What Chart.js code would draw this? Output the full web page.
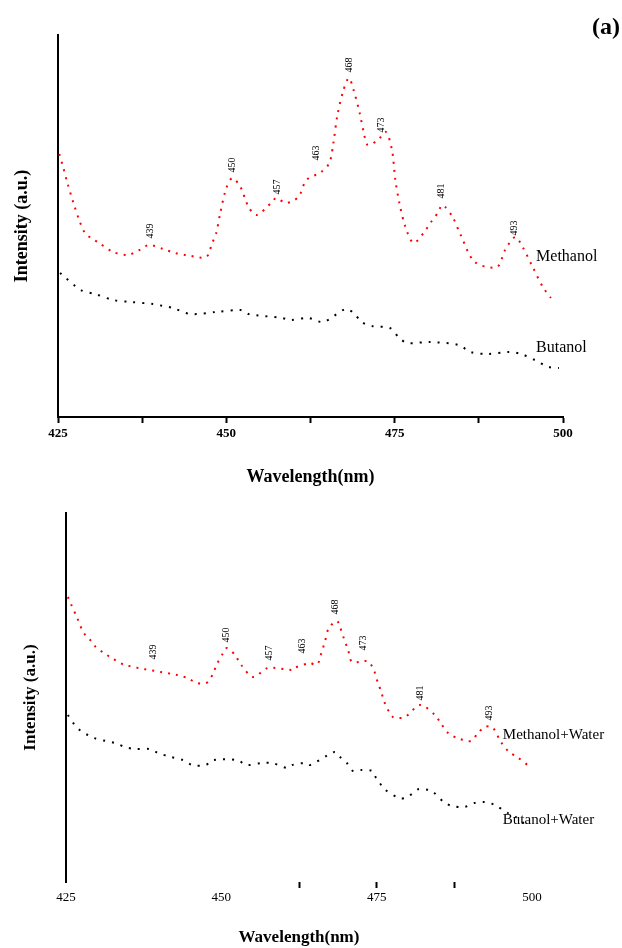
<!DOCTYPE html>
<html>
<head>
<meta charset="utf-8">
<script src="https://cdn.jsdelivr.net/npm/chart.js@4/dist/chart.umd.min.js"></script>
<style>
  html, body { margin: 0; padding: 0; background: #fff; }
  #wrap { position: relative; width: 622px; height: 948px; }
  #topBox { position: absolute; left: 0; top: 0; width: 622px; height: 490px; }
  #botBox { position: absolute; left: 0; top: 490px; width: 622px; height: 458px; }
</style>
</head>
<body>
<div id="wrap">
  <div id="topBox"><canvas id="topChart" width="622" height="490"></canvas></div>
  <div id="botBox"><canvas id="botChart" width="622" height="458"></canvas></div>
</div>
<script>
// panel (a) top: methanol / butanol
const methWl = [425.2, 425.8, 426.4, 427.3, 428.2, 429.0, 429.9, 431.1, 433.2, 435.3, 437.1, 438.5, 440.6, 442.4, 444.0, 447.0, 447.9, 448.5, 449.1, 450.0, 450.9, 452.1, 453.3, 454.5, 456.8, 457.4, 458.9, 460.7, 461.9, 464.1, 465.3, 465.9, 466.5, 467.4, 468.2, 468.9, 469.8, 470.4, 471.0, 472.5, 473.7, 474.6, 475.1, 475.7, 476.6, 477.8, 479.3, 480.4, 481.4, 482.1, 483.6, 484.8, 486.9, 490.2, 491.4, 492.9, 494.0, 495.5, 497.0, 498.2];
const methInt = [263, 249, 234, 214, 196, 184, 179, 174, 165, 162, 167, 172, 168, 164, 162, 160, 174, 184, 204, 229, 239, 230, 210, 202, 215, 219, 214, 220, 237, 245, 254, 274, 302, 327, 339, 327, 304, 285, 272, 277, 285, 267, 237, 214, 190, 174, 184, 195, 204, 212, 200, 182, 155, 150, 167, 180, 170, 150, 130, 119];

const butWl = [425.3, 428.4, 430.5, 433.2, 435.9, 439.1, 440.6, 442.1, 444.6, 448.5, 452.1, 453.3, 458.3, 459.5, 462.2, 464.4, 467.7, 468.9, 470.1, 471.6, 474.3, 475.7, 476.9, 480.2, 484.5, 486.3, 488.7, 492.0, 493.8, 495.8, 497.9, 499.4];
const butInt = [144, 127, 123, 117, 115, 113, 111, 109, 103, 105, 107, 103, 99, 97, 99, 95, 108, 104, 95, 91, 89, 79, 74, 75, 72, 65, 63, 65, 63, 57, 50, 49];

// lower panel: with water
const methWaterWl = [425.3, 425.8, 426.8, 427.6, 428.1, 428.9, 429.8, 431.1, 432.1, 434.5, 442.9, 444.5, 446.1, 447.5, 448.0, 448.7, 449.3, 450.3, 450.9, 452.2, 453.2, 455.1, 457.5, 461.4, 461.7, 464.3, 465.1, 465.6, 466.0, 466.7, 467.3, 468.6, 469.1, 469.7, 470.4, 471.0, 472.2, 473.1, 473.8, 474.6, 475.2, 475.7, 476.3, 477.6, 478.6, 479.6, 482.0, 484.4, 485.2, 486.5, 488.4, 490.2, 491.3, 492.4, 493.6, 495.0, 496.3, 497.6, 499.5];
const methWaterInt = [285, 278, 264, 252, 247, 242, 235, 229, 225, 217, 207, 204, 199, 199, 201, 209, 218, 229, 234, 227, 217, 205, 214, 212, 214, 219, 217, 219, 227, 241, 254, 261, 255, 244, 232, 220, 220, 221, 220, 211, 199, 191, 179, 165, 164, 165, 177, 167, 160, 149, 143, 141, 149, 155, 155, 140, 130, 125, 116];

const butWaterWl = [425.3, 426.4, 427.4, 428.5, 429.5, 431.4, 432.9, 434.5, 436.1, 438.4, 439.8, 441.9, 443.8, 445.3, 447.5, 448.7, 452.5, 454.1, 456.5, 458.2, 460.6, 461.4, 463.6, 464.3, 467.2, 468.3, 469.1, 470.2, 471.2, 472.6, 474.3, 474.9, 475.5, 476.2, 478.6, 479.6, 480.9, 481.8, 483.4, 484.1, 485.8, 487.1, 489.1, 490.7, 492.4, 494.0, 496.1, 497.4, 499.2];
const butWaterInt = [167, 157, 151, 147, 144, 141, 139, 135, 133, 133, 129, 125, 122, 117, 117, 122, 122, 117, 119, 119, 114, 117, 119, 117, 127, 130, 125, 119, 111, 112, 111, 104, 99, 93, 84, 84, 89, 93, 92, 90, 80, 76, 75, 79, 80, 77, 69, 65, 56];

// peak labels
const peakText = ['439', '450', '457', '463', '468', '473', '481', '493'];
const peakWlTop = [438.7, 450.9, 457.6, 463.3, 468.3, 473.1, 481.9, 492.8];
const peakAtTop = [186, 252, 230, 264, 352, 292, 226, 189];
const peakWlBot = [439.0, 450.8, 457.8, 463.0, 468.3, 472.8, 482.0, 493.1];
const peakAtBot = [230, 247, 229, 236, 275, 239, 189, 169];

// series names, anchored near the curve ends
const namesTop = ['Methanol', 'Butanol'];
const nameWlTop = [496.0, 496.0];
const nameAtTop = [160, 69];
const namesBot = ['Methanol+Water', 'Butanol+Water'];
const nameWlBot = [495.3, 495.3];
const nameAtBot = [147, 62];

const xTicksMajor = [425, 450, 475, 500];

const SERIF = "'Liberation Serif', 'Times New Roman', serif";

function toXY(xs, ys) {
  return xs.map((v, i) => ({ x: v, y: ys[i] }));
}

const textLayer = {
  id: 'textLayer',
  afterDatasetsDraw(chart, args, opts) {
    const ctx = chart.ctx;
    const x = chart.scales.x;
    const y = chart.scales.y;
    ctx.save();
    ctx.fillStyle = '#000';

    ctx.font = opts.peakFont;
    ctx.textAlign = 'center';
    ctx.textBaseline = 'middle';
    opts.peakText.forEach((t, i) => {
      ctx.save();
      ctx.translate(x.getPixelForValue(opts.peakWl[i]), y.getPixelForValue(opts.peakAt[i]));
      ctx.rotate(-Math.PI / 2);
      ctx.fillText(t, 0, 0);
      ctx.restore();
    });

    ctx.font = opts.nameFont;
    ctx.textAlign = 'left';
    opts.names.forEach((t, i) => {
      ctx.fillText(t, x.getPixelForValue(opts.nameWl[i]), y.getPixelForValue(opts.nameAt[i]));
    });

    if (opts.tag) {
      ctx.font = 'bold 24px ' + SERIF;
      ctx.textAlign = 'right';
      ctx.fillText(opts.tag, 620, 28);
    }
    ctx.restore();
  }
};

function lineSet(data, color, dash) {
  return {
    data: data,
    borderColor: color,
    borderWidth: 2,
    borderDash: dash,
    pointRadius: 0,
    tension: 0.3,
    fill: false
  };
}

function makeChart(id, cfg) {
  return new Chart(document.getElementById(id), {
    type: 'line',
    data: {
      datasets: [
        lineSet(cfg.red, '#ff0000', [2, 6]),
        lineSet(cfg.black, '#000000', [2, 7])
      ]
    },
    plugins: [textLayer],
    options: {
      responsive: false,
      animation: false,
      layout: { padding: cfg.padding },
      plugins: {
        legend: { display: false },
        tooltip: { enabled: false },
        textLayer: cfg.text
      },
      scales: {
        x: {
          type: 'linear',
          min: 425,
          max: 500,
          afterFit: s => { s.height = cfg.xHeight; },
          afterBuildTicks: s => {
            s.ticks = [];
            for (let v = 425; v <= 500; v += 12.5) s.ticks.push({ value: v });
          },
          border: { display: cfg.xBorder, color: '#000', width: 2 },
          grid: {
            drawOnChartArea: false,
            tickLength: 6,
            tickWidth: 2,
            tickColor: c => cfg.tickShown(c.tick.value) ? '#000' : 'rgba(0,0,0,0)'
          },
          ticks: {
            color: '#000',
            padding: cfg.tickPad,
            maxRotation: 0,
            autoSkip: false,
            font: { family: SERIF, size: 13, weight: cfg.tickWeight },
            callback: v => xTicksMajor.includes(v) ? String(v) : ''
          },
          title: {
            display: true,
            text: 'Wavelength(nm)',
            color: '#000',
            font: { family: SERIF, size: cfg.titleSize, weight: 'bold', lineHeight: 1 },
            padding: { top: 0, bottom: cfg.xTitlePad }
          }
        },
        y: {
          min: 0,
          max: cfg.yMax,
          afterFit: s => { s.width = cfg.yWidth; },
          border: { display: true, color: '#000', width: 2 },
          grid: { display: false },
          ticks: { display: false },
          title: {
            display: true,
            text: 'Intensity (a.u.)',
            color: '#000',
            font: { family: SERIF, size: cfg.titleSize, weight: 'bold', lineHeight: 1 },
            padding: { top: cfg.yTitlePad, bottom: 0 }
          }
        }
      }
    }
  });
}

makeChart('topChart', {
  red: toXY(methWl, methInt),
  black: toXY(butWl, butInt),
  padding: { top: 35, right: 59, left: 0, bottom: 0 },
  xHeight: 73,
  yWidth: 58,
  yMax: 382,
  xBorder: true,
  tickShown: v => true,
  tickPad: 3,
  tickWeight: 'bold',
  titleSize: 18,
  xTitlePad: 4,
  yTitlePad: 13,
  text: {
    peakText: peakText, peakWl: peakWlTop, peakAt: peakAtTop,
    names: namesTop, nameWl: nameWlTop, nameAt: nameAtTop,
    peakFont: '10px ' + SERIF,
    nameFont: '16px ' + SERIF,
    tag: '(a)'
  }
});

makeChart('botChart', {
  red: toXY(methWaterWl, methWaterInt),
  black: toXY(butWaterWl, butWaterInt),
  padding: { top: 23, right: 90, left: 0, bottom: 0 },
  xHeight: 66,
  yWidth: 66,
  yMax: 369,
  xBorder: false,
  tickShown: v => v > 455 && v < 495,
  tickPad: 2,
  tickWeight: 'normal',
  titleSize: 17,
  xTitlePad: 2,
  yTitlePad: 22,
  text: {
    peakText: peakText, peakWl: peakWlBot, peakAt: peakAtBot,
    names: namesBot, nameWl: nameWlBot, nameAt: nameAtBot,
    peakFont: '10px ' + SERIF,
    nameFont: '15px ' + SERIF,
    tag: null
  }
});
</script>
</body>
</html>
